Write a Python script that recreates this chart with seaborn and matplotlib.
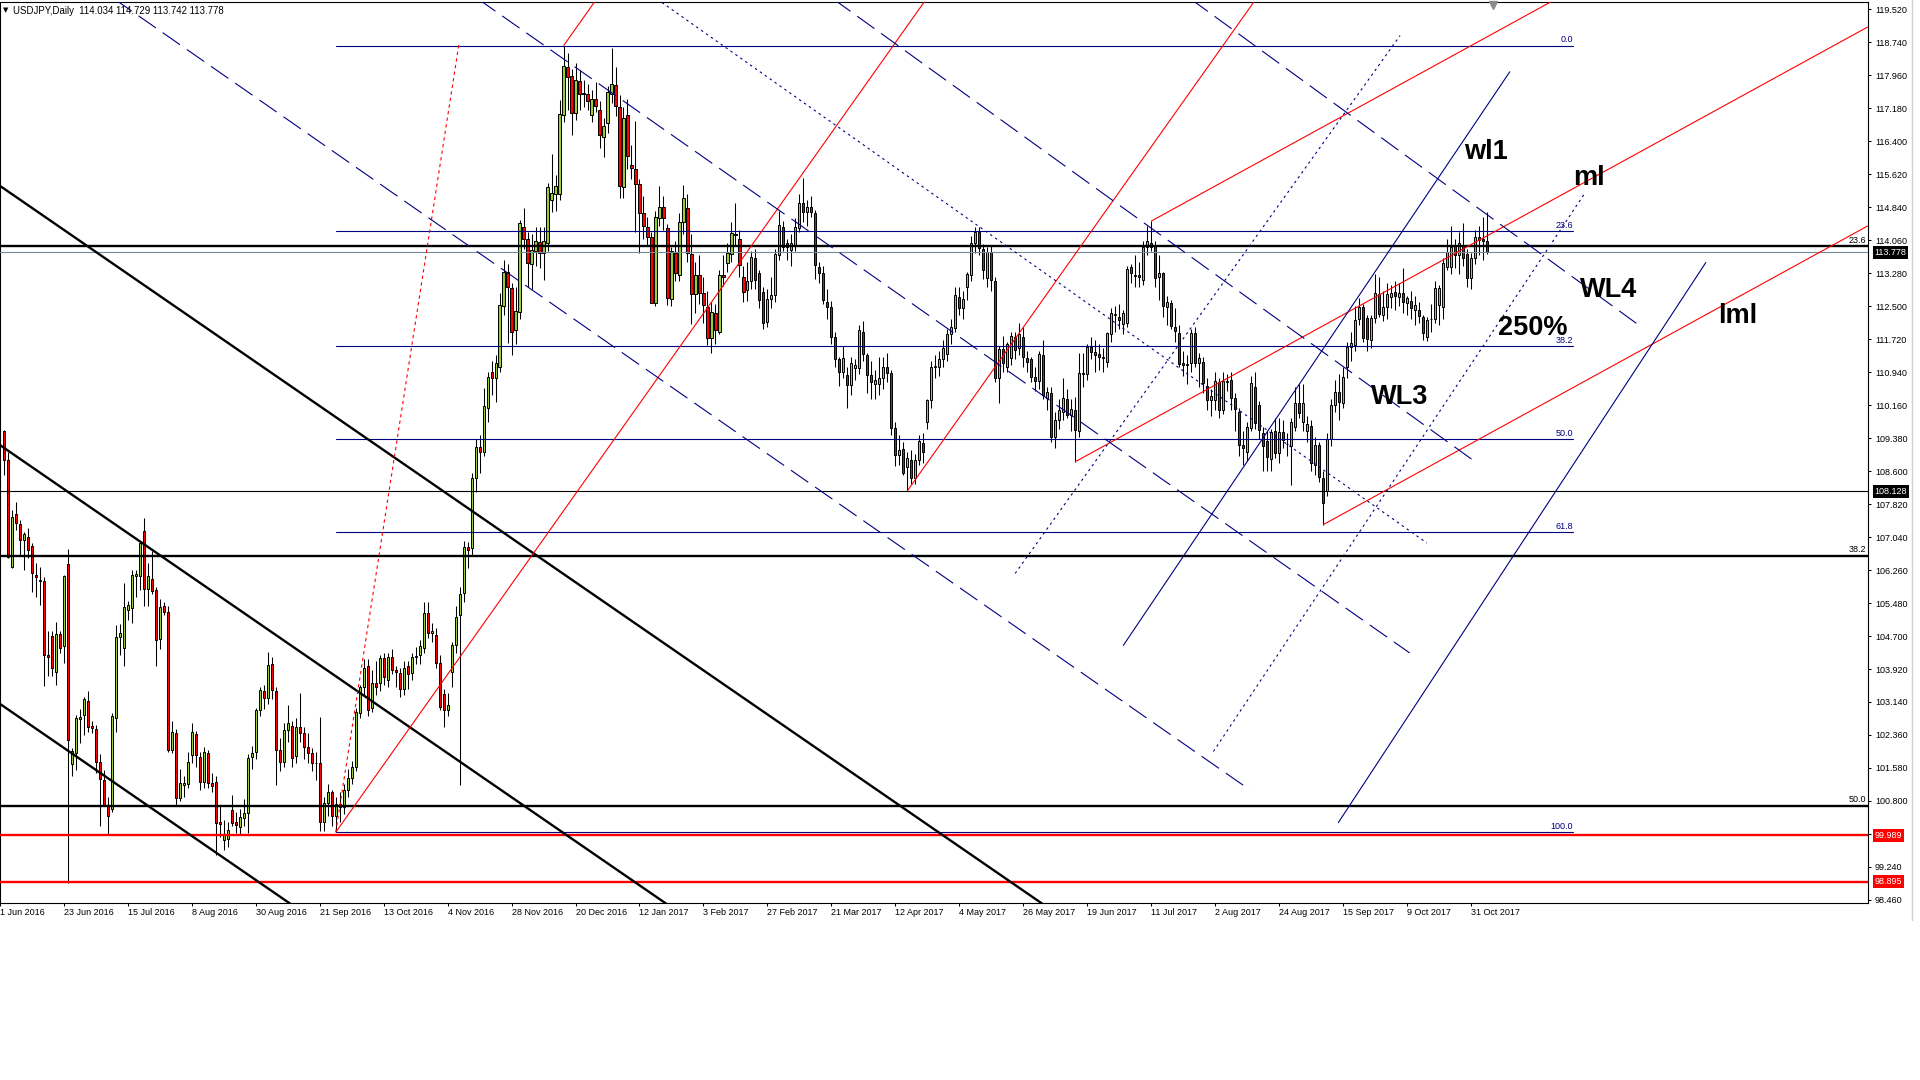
import numpy as np
import matplotlib
matplotlib.use("Agg")
import matplotlib.pyplot as plt
from matplotlib.lines import Line2D
from matplotlib.ticker import FixedFormatter
import seaborn as sns

# USDJPY daily candles, bar 1 = 2 Jun 2016 ... bar 372 = 6 Nov 2017 (bar 0 = 1 Jun 2016 is off screen)
first_bar = 1
opens = [
    109.55, 108.86, 106.34, 107.58, 107.35, 106.96, 107.05, 106.83, 106.14,
    106.03, 106.00, 104.25, 104.70, 103.86, 104.75, 104.47, 106.40, 101.67, 101.94,
    102.74, 102.83, 103.17, 102.58, 102.50, 101.73, 101.30, 100.71, 100.61, 102.76,
    104.68, 104.41, 105.32, 105.36, 106.12, 106.11, 107.19, 105.81, 106.06, 105.79,
    104.63, 105.41, 105.28, 102.01, 102.40, 100.86, 101.18, 101.20, 101.89, 102.38,
    101.83, 101.24, 101.93, 101.22, 101.26, 100.30, 99.88, 99.90, 100.59, 100.30,
    100.19, 100.39, 100.51, 101.85, 101.95, 102.95, 103.39, 103.23, 104.03, 103.39,
    102.00, 101.73, 102.48, 102.57, 101.86, 102.54, 102.40, 102.08, 101.93, 101.69,
    101.70, 100.30, 100.75, 101.00, 100.45, 100.73, 100.65, 101.06, 101.34, 101.60,
    102.88, 103.50, 103.98, 103.00, 103.60, 103.58, 104.17, 103.66, 104.20, 103.90,
    103.82, 103.44, 103.98, 103.82, 104.20, 104.24, 104.41, 105.24, 104.77, 104.73,
    104.06, 103.33, 102.95, 103.86, 104.49, 105.20, 105.72, 106.81, 106.78, 108.43,
    109.18, 109.06, 110.09, 110.95, 110.80, 111.07, 112.50, 113.30, 112.92, 111.93,
    112.37, 114.38, 114.10, 113.50, 113.80, 114.02, 113.75, 113.99, 115.01, 115.15,
    115.15, 117.02, 118.15, 117.94, 117.06, 117.83, 117.55, 117.51, 117.02, 117.41,
    117.14, 116.50, 116.84, 117.52, 117.73, 117.20, 115.31, 117.02, 115.85, 115.74,
    115.39, 114.70, 114.38, 114.14, 112.58, 114.58, 114.84, 114.34, 112.66, 113.76,
    113.24, 114.50, 114.81, 113.73, 112.78, 113.24, 112.80, 112.49, 111.74, 112.35,
    111.90, 113.24, 113.51, 113.73, 114.21, 114.10, 113.20, 112.88, 113.10, 113.63,
    113.28, 112.84, 112.13, 112.68, 112.76, 113.70, 114.38, 113.99, 113.83, 113.95,
    114.34, 114.93, 114.73, 114.84, 114.71, 113.43, 113.29, 112.61, 112.49, 111.76,
    111.24, 110.95, 110.87, 110.64, 111.03, 111.03, 111.90, 111.35, 110.87, 110.67,
    110.67, 110.79, 111.07, 110.91, 109.61, 108.98, 109.12, 108.70, 108.86, 108.43,
    108.86, 109.27, 109.75, 110.28, 111.05, 111.07, 111.24, 111.37, 111.84, 111.98,
    112.71, 112.45, 112.95, 113.24, 114.00, 114.26, 113.85, 113.16, 113.77, 113.10,
    110.79, 111.48, 111.07, 111.27, 111.76, 111.50, 111.76, 111.27, 111.24, 110.83,
    110.74, 111.35, 110.32, 110.45, 109.40, 109.81, 110.00, 110.30, 109.93, 110.05,
    109.55, 110.90, 110.90, 111.54, 111.42, 111.38, 111.30, 111.17, 111.84, 112.28,
    112.25, 112.08, 112.10, 113.42, 113.24, 113.24, 113.12, 113.89, 114.00, 113.95,
    113.20, 113.28, 112.49, 112.58, 112.00, 111.86, 111.15, 111.10, 111.15, 111.87,
    111.15, 111.19, 110.61, 110.27, 110.28, 110.70, 110.05, 110.70, 110.75, 110.32,
    110.00, 109.22, 109.06, 109.61, 110.60, 110.16, 109.51, 109.32, 108.88, 109.56,
    109.02, 109.53, 109.24, 109.19, 109.65, 110.22, 109.75, 109.55, 109.67, 108.74,
    109.22, 108.43, 108.14, 109.37, 110.16, 110.48, 110.20, 111.07, 111.53, 111.58,
    112.19, 112.49, 112.21, 111.70, 112.21, 112.79, 112.29, 112.49, 112.71, 112.84,
    112.71, 112.80, 112.57, 112.62, 112.41, 112.41, 112.25, 111.78, 112.19, 112.19,
    112.53, 112.49, 113.42, 113.42, 113.95, 113.71, 113.95, 113.73, 113.16, 113.63,
    114.13, 114.10, 114.03,
]
highs = [
    109.58, 109.06, 107.67, 107.88, 107.45, 107.17, 107.25, 106.90, 106.42,
    106.34, 106.10, 104.83, 104.83, 105.04, 104.83, 106.14, 106.75, 102.05, 102.83,
    102.98, 103.27, 103.39, 102.70, 102.60, 101.90, 101.53, 100.90, 102.87, 104.96,
    104.99, 105.95, 105.52, 106.26, 106.27, 106.95, 107.49, 106.42, 106.70, 105.85,
    105.58, 105.51, 105.40, 102.68, 102.50, 101.55, 101.40, 101.95, 102.65, 102.45,
    101.95, 102.08, 102.00, 101.45, 101.40, 100.70, 100.35, 100.30, 100.95, 100.55,
    100.60, 100.85, 101.92, 102.10, 103.00, 103.50, 103.55, 104.33, 104.20, 103.50,
    102.30, 102.65, 103.07, 102.70, 102.75, 103.35, 102.55, 102.40, 102.05, 101.95,
    102.79, 100.90, 101.20, 101.05, 100.90, 101.00, 101.20, 101.55, 101.75, 103.00,
    103.55, 104.15, 104.15, 103.90, 104.10, 104.25, 104.30, 104.30, 104.40, 104.00,
    103.95, 104.10, 104.10, 104.30, 104.45, 104.60, 105.51, 105.51, 105.00, 104.90,
    104.25, 103.45, 103.35, 104.55, 105.40, 105.85, 106.95, 106.92, 108.55, 109.35,
    109.45, 110.56, 110.95, 111.20, 111.35, 112.80, 113.59, 113.50, 113.05, 112.96,
    114.54, 114.81, 114.25, 114.20, 114.38, 114.38, 114.38, 115.41, 116.11, 115.60,
    117.37, 118.66, 118.48, 118.10, 118.24, 118.09, 117.86, 117.75, 117.61, 117.81,
    117.35, 116.95, 117.70, 118.60, 118.16, 117.50, 117.20, 117.40, 116.30, 116.88,
    115.50, 115.10, 114.60, 114.25, 114.75, 115.35, 115.10, 114.45, 113.90, 114.05,
    114.70, 115.37, 115.15, 114.20, 113.55, 113.70, 113.20, 112.85, 112.60, 112.55,
    113.35, 113.72, 114.00, 114.50, 114.95, 114.30, 113.45, 113.55, 113.80, 113.85,
    113.35, 112.95, 112.90, 113.20, 113.85, 114.75, 114.52, 114.10, 114.20, 114.58,
    115.15, 115.52, 115.00, 115.10, 114.78, 113.55, 113.45, 112.90, 112.62, 111.90,
    111.30, 111.55, 111.05, 111.30, 111.25, 112.05, 112.15, 111.40, 111.20, 111.00,
    111.30, 111.30, 111.40, 111.00, 109.75, 109.45, 109.30, 109.05, 109.10, 109.00,
    109.45, 109.50, 110.30, 111.20, 111.35, 111.45, 111.70, 111.95, 112.20, 112.95,
    112.95, 112.85, 113.30, 114.15, 114.37, 114.37, 113.98, 113.90, 113.95, 113.20,
    111.55, 111.80, 111.65, 111.90, 111.90, 112.10, 112.00, 111.45, 111.30, 111.05,
    111.45, 111.70, 110.60, 110.60, 110.00, 110.30, 110.80, 110.55, 110.30, 110.35,
    111.40, 111.40, 111.60, 111.78, 111.70, 111.60, 111.50, 111.90, 112.45, 112.50,
    112.55, 112.40, 113.45, 113.50, 113.70, 113.55, 114.05, 114.40, 114.51, 114.05,
    113.70, 113.30, 112.75, 112.65, 112.45, 112.05, 111.45, 111.35, 111.95, 112.00,
    111.40, 111.30, 110.80, 110.55, 110.95, 110.80, 110.95, 110.90, 110.95, 110.45,
    110.10, 109.55, 109.75, 110.85, 110.95, 110.25, 109.65, 109.55, 109.60, 109.85,
    109.85, 109.80, 109.50, 109.85, 110.60, 110.65, 110.65, 109.90, 109.80, 109.40,
    109.30, 108.60, 109.50, 110.30, 110.75, 110.90, 111.05, 111.65, 111.90, 112.50,
    112.70, 112.55, 112.30, 112.30, 113.25, 113.20, 112.85, 113.05, 113.00, 113.10,
    113.05, 113.40, 112.75, 112.85, 112.75, 112.60, 112.30, 112.25, 112.55, 113.10,
    113.00, 113.65, 114.10, 114.40, 114.10, 114.25, 114.46, 113.85, 113.75, 114.30,
    114.40, 114.60, 114.73,
]
lows = [
    108.51, 106.54, 106.30, 107.20, 106.62, 106.26, 106.54, 105.73, 105.62,
    105.44, 103.53, 103.76, 103.76, 103.54, 104.29, 104.06, 98.87, 101.38, 101.53,
    102.16, 102.36, 102.44, 102.40, 101.45, 100.20, 100.67, 100.00, 100.55, 102.44,
    104.25, 103.98, 105.08, 105.00, 105.63, 105.80, 105.40, 105.40, 105.70, 103.98,
    104.40, 105.20, 101.95, 101.93, 100.70, 100.80, 100.90, 101.10, 101.70, 101.60,
    101.05, 101.10, 101.10, 101.00, 99.52, 99.95, 99.64, 99.70, 100.20, 100.05,
    100.00, 100.20, 100.04, 101.55, 101.80, 102.80, 102.98, 103.10, 103.20, 101.18,
    101.50, 101.60, 102.20, 101.60, 101.70, 102.20, 101.80, 101.70, 101.50, 101.30,
    100.10, 100.10, 100.45, 100.20, 100.06, 100.30, 100.50, 100.90, 101.20, 101.50,
    102.75, 103.30, 102.80, 102.90, 103.30, 103.40, 103.55, 103.50, 103.80, 103.50,
    103.25, 103.30, 103.45, 103.65, 104.05, 104.05, 104.30, 104.65, 104.55, 103.95,
    102.95, 102.56, 102.80, 103.50, 104.30, 101.18, 105.50, 106.30, 106.60, 108.11,
    108.55, 108.95, 109.75, 110.40, 110.24, 110.95, 112.30, 111.62, 111.35, 111.60,
    112.20, 113.85, 112.96, 112.90, 113.45, 113.40, 113.12, 113.80, 114.73, 114.75,
    115.00, 116.85, 117.15, 116.55, 116.90, 117.15, 117.22, 117.14, 116.85, 117.10,
    116.23, 116.03, 116.60, 117.30, 117.00, 115.05, 115.06, 115.75, 115.50, 114.25,
    113.75, 114.10, 113.95, 112.57, 112.50, 114.40, 114.30, 112.52, 112.50, 113.10,
    113.10, 114.20, 113.55, 112.08, 112.35, 112.55, 112.10, 111.58, 111.40, 111.60,
    111.85, 112.98, 113.30, 113.55, 113.95, 113.20, 112.60, 112.62, 112.90, 112.90,
    112.45, 111.95, 112.00, 112.45, 112.60, 113.60, 113.80, 113.60, 113.45, 113.80,
    114.25, 114.50, 114.40, 114.60, 113.15, 113.05, 112.55, 112.20, 111.60, 111.05,
    110.62, 110.80, 110.10, 110.40, 110.75, 110.90, 111.20, 110.45, 110.30, 110.30,
    110.40, 110.55, 110.70, 109.45, 108.72, 108.75, 108.50, 108.13, 108.30, 108.30,
    108.75, 108.80, 109.60, 110.10, 110.80, 110.85, 111.05, 111.20, 111.60, 111.90,
    112.30, 112.20, 112.65, 113.10, 113.75, 113.70, 113.15, 112.95, 112.85, 110.70,
    110.20, 110.95, 110.95, 111.10, 111.25, 111.35, 111.05, 110.95, 110.70, 110.50,
    110.55, 110.30, 110.05, 109.30, 109.15, 109.60, 109.80, 109.85, 109.55, 108.82,
    109.40, 110.60, 110.75, 111.25, 110.95, 111.00, 110.95, 111.05, 111.65, 111.90,
    111.95, 111.85, 112.00, 113.05, 112.95, 112.95, 113.00, 113.70, 113.80, 112.95,
    112.65, 112.25, 112.05, 111.95, 111.65, 111.05, 110.85, 110.65, 110.95, 111.05,
    110.60, 110.45, 110.05, 109.90, 110.05, 109.85, 109.95, 110.50, 110.05, 109.55,
    108.95, 108.75, 108.85, 109.55, 109.60, 109.35, 108.60, 108.60, 108.60, 108.90,
    108.80, 109.15, 108.95, 108.27, 109.55, 109.85, 109.55, 109.30, 108.60, 108.50,
    108.35, 107.33, 108.00, 109.20, 110.00, 109.80, 110.10, 110.80, 111.20, 111.45,
    112.05, 111.65, 111.45, 111.50, 112.10, 112.25, 112.15, 112.20, 112.45, 112.40,
    112.50, 112.35, 112.30, 112.20, 112.05, 112.10, 111.70, 111.67, 111.90, 112.10,
    112.05, 112.20, 113.35, 113.25, 113.40, 113.25, 113.45, 112.95, 112.90, 113.50,
    113.70, 113.60, 113.74,
]
closes = [
    108.86, 106.58, 107.52, 107.37, 106.96, 107.11, 106.73, 106.18, 106.09,
    105.99, 104.24, 104.20, 103.94, 104.75, 104.41, 106.12, 102.24, 101.97, 102.75,
    102.78, 103.21, 102.54, 102.52, 101.73, 101.31, 100.71, 100.45, 102.82, 104.67,
    104.76, 105.38, 105.44, 106.15, 106.17, 106.89, 105.81, 106.12, 105.77, 104.61,
    105.38, 105.28, 102.01, 102.42, 100.86, 101.22, 101.22, 101.73, 102.42, 101.89,
    101.24, 101.95, 101.22, 101.16, 100.27, 100.25, 100.00, 100.12, 100.27, 100.23,
    100.43, 100.51, 101.81, 101.93, 102.95, 103.43, 103.23, 104.02, 103.42, 102.00,
    101.73, 102.48, 102.65, 101.81, 102.56, 102.40, 102.08, 101.93, 101.69, 101.70,
    100.30, 100.75, 101.00, 100.45, 100.73, 100.65, 101.06, 101.35, 101.61, 102.90,
    103.50, 103.94, 102.95, 103.58, 103.50, 104.17, 103.74, 104.20, 103.90, 103.86,
    103.44, 103.94, 103.81, 104.20, 104.23, 104.47, 105.25, 104.77, 104.81, 104.06,
    103.03, 102.95, 103.07, 104.49, 105.16, 105.70, 106.81, 106.73, 108.43, 109.18,
    109.06, 110.14, 110.83, 110.80, 111.15, 112.53, 113.32, 112.96, 111.90, 112.38,
    114.46, 114.10, 113.51, 113.84, 114.03, 113.75, 114.03, 115.33, 115.17, 115.35,
    117.04, 118.18, 117.93, 117.06, 117.85, 117.52, 117.52, 117.36, 117.41, 117.23,
    116.55, 116.75, 117.57, 117.75, 117.23, 115.34, 116.94, 116.05, 115.76, 115.40,
    114.71, 114.40, 114.14, 112.58, 114.62, 114.84, 114.58, 112.70, 113.80, 113.28,
    114.50, 115.05, 113.76, 112.78, 113.24, 112.80, 112.53, 111.74, 112.37, 111.94,
    113.24, 113.20, 113.76, 114.24, 114.18, 113.47, 112.84, 113.10, 113.67, 113.12,
    112.65, 112.10, 112.68, 112.76, 113.73, 114.42, 113.91, 113.89, 113.99, 114.38,
    114.93, 114.73, 114.84, 114.73, 113.47, 113.29, 112.65, 112.49, 111.78, 111.24,
    110.95, 111.27, 110.64, 111.15, 111.11, 111.94, 111.38, 110.87, 110.71, 110.75,
    110.79, 111.07, 110.91, 109.61, 108.98, 109.10, 108.55, 108.90, 108.43, 108.86,
    109.31, 109.06, 110.28, 111.07, 111.08, 111.24, 111.50, 111.84, 112.00, 112.76,
    112.45, 112.67, 113.26, 113.99, 114.26, 113.87, 113.36, 113.77, 113.12, 110.79,
    111.48, 111.15, 111.61, 111.80, 111.46, 111.84, 111.31, 111.17, 110.83, 110.74,
    111.37, 110.40, 110.48, 109.40, 109.81, 110.05, 110.32, 109.93, 110.06, 109.57,
    110.93, 110.92, 111.54, 111.42, 111.35, 111.31, 111.28, 111.86, 112.33, 112.32,
    112.17, 112.35, 113.37, 113.28, 113.22, 113.20, 113.91, 114.03, 113.91, 113.16,
    113.28, 112.50, 112.60, 112.03, 111.92, 111.13, 111.10, 111.13, 111.87, 111.15,
    111.27, 110.68, 110.27, 110.38, 110.72, 110.05, 110.72, 110.74, 110.32, 110.08,
    109.22, 109.14, 109.65, 110.68, 109.73, 109.57, 109.19, 108.94, 109.53, 109.02,
    109.53, 109.34, 109.24, 109.75, 110.22, 109.97, 110.22, 109.71, 108.80, 109.22,
    108.45, 107.85, 109.37, 110.16, 110.48, 110.24, 110.82, 111.54, 111.62, 112.17,
    112.49, 111.74, 111.72, 112.21, 112.80, 112.32, 112.49, 112.79, 112.82, 112.75,
    112.80, 112.61, 112.69, 112.45, 112.53, 112.27, 111.86, 112.17, 112.19, 112.92,
    112.92, 113.51, 113.77, 113.91, 113.71, 113.99, 113.63, 113.16, 113.63, 114.13,
    114.07, 114.03, 113.78,
]

# date labels every 16 bars, starting at bar 0
date_labels = [
    "1 Jun 2016", "23 Jun 2016", "15 Jul 2016", "8 Aug 2016", "30 Aug 2016",
    "21 Sep 2016", "13 Oct 2016", "4 Nov 2016", "28 Nov 2016", "20 Dec 2016",
    "12 Jan 2017", "3 Feb 2017", "27 Feb 2017", "21 Mar 2017", "12 Apr 2017",
    "4 May 2017", "26 May 2017", "19 Jun 2017", "11 Jul 2017", "2 Aug 2017",
    "24 Aug 2017", "15 Sep 2017", "9 Oct 2017", "31 Oct 2017",
]
price_ticks = [
    98.46, 99.24, 100.02, 100.80, 101.58, 102.36, 103.14, 103.92, 104.70, 105.48,
    106.26, 107.04, 107.82, 108.60, 109.38, 110.16, 110.94, 111.72, 112.50, 113.28,
    114.06, 114.84, 115.62, 116.40, 117.18, 117.96, 118.74, 119.52,
]
# 100.020 sits under the 99.989 price box in the reference
hidden_tick = 100.02

# horizontal levels
bid_price = 113.778
black_level = 108.128
red_levels = [99.989, 98.895]

# black fibo (anchors outside the view)
black_fib_hi, black_fib_lo = 125.74, 75.64
black_fib_levels = [23.6, 38.2, 50.0]

# blue fibo from Sep 2016 low to Dec 2016 high
blue_fib_start, blue_fib_end = 84, 393.5
blue_fib_lo, blue_fib_hi = 100.06, 118.66
blue_fib_levels = [0.0, 23.6, 38.2, 50.0, 61.8, 100.0]

# pitchforks (bar, price)
fork1 = [(84, 100.06), (141, 118.66), (227, 108.13)]
fork2 = [(269, 108.82), (288, 114.51), (331, 107.33)]

# trend lines (bar, price)
channel_upper = [(-5, 115.67), (270, 97.77)]
channel_mid = [(-5, 109.54), (175, 97.83)]
channel_low = [(-5, 103.42), (80, 97.89)]
red_dotted = [(84, 100.06), (114.8, 118.68)]
dash_1 = [(28.07, 119.80), (312.75, 101.06)]
dash_2 = [(119.08, 119.80), (352.7, 104.30)]
dot_desc = [(163.84, 119.80), (357.0, 106.90)]
dash_3 = [(207.98, 119.80), (369.7, 108.78)]
wl4_line = [(297.4, 119.80), (410.5, 112.02)]
wl1_line = [(281.0, 104.47), (377.8, 118.05)]
blue_low_line = [(334.8, 100.28), (426.85, 113.54)]
dot_up_1 = [(254.0, 106.18), (350.3, 118.90)]
dot_up_2 = [(303.6, 101.97), (396.3, 115.14)]

# big labels: text, bar, price (baseline)
tags = [("wl1", 366.4, 115.98), ("ml", 393.6, 115.37), ("WL4", 395.4, 112.72),
        ("250%", 374.9, 111.82), ("lml", 429.9, 112.10), ("WL3", 343.1, 110.19)]

NAVY = "#000080"
RED = "#ff0000"
BULL = "#9acd32"

sns.set_theme(style="white")
plt.rcParams['font.family'] = ['Liberation Sans', 'DejaVu Sans']

W, H = 1920, 1080
fig = plt.figure(figsize=(19.2, 10.8), dpi=100)
fig.patch.set_facecolor("white")
ax = fig.add_axes([0, 1 - 902.7 / H, 1868 / W, 900.7 / H])
ax.set_facecolor("white")
ax.set_xlim(0.375, 467.375)
ax.set_ylim(98.394, 119.693)

n = min(len(opens), len(highs), len(lows), len(closes))
x = np.arange(first_bar, first_bar + n)
o = np.array(opens[:n]); hi = np.array(highs[:n])
lo = np.array(lows[:n]); c = np.array(closes[:n])

# candles
ax.vlines(x, lo, hi, color="black", linewidth=0.75, zorder=2)
body_bot = np.minimum(o, c)
body_h = np.maximum(np.abs(c - o), 0.004)
cols = np.where(c >= o, BULL, RED)
ax.bar(x, body_h, bottom=body_bot, width=0.55, color=cols,
       edgecolor="black", linewidth=0.7, zorder=3)

lw = 0.8
DASH = (0, (19, 7.5))
DOT = (0, (2.2, 3.2))


def seg(pts, color, ls="-", width=lw):
    ax.plot([pts[0][0], pts[1][0]], [pts[0][1], pts[1][1]], color=color,
            linestyle=ls, linewidth=width, zorder=4, solid_capstyle="butt")


# horizontal lines
ax.axhline(black_level, color="black", linewidth=0.8, zorder=4)
ax.axhline(bid_price, color="#778899", linewidth=0.8, zorder=4)
for rp in red_levels:
    ax.axhline(rp, color=RED, linewidth=1.7, zorder=4)

# black fibo
for lv in black_fib_levels:
    p = black_fib_hi - lv / 100 * (black_fib_hi - black_fib_lo)
    ax.axhline(p, color="black", linewidth=1.7, zorder=4)
    ax.text(466.9, p + 0.03, f"{lv:.1f}", ha="right", va="bottom",
            fontsize=6.5, color="black", zorder=6)

# blue fibo
for lv in blue_fib_levels:
    p = blue_fib_hi - lv / 100 * (blue_fib_hi - blue_fib_lo)
    ax.plot([blue_fib_start, blue_fib_end], [p, p], color=NAVY, linewidth=lw, zorder=4)
    ax.text(blue_fib_end, p + 0.03, f"{lv:.1f}", ha="right", va="bottom",
            fontsize=6.5, color=NAVY, zorder=6)

# black descending channel
for ln in (channel_upper, channel_mid, channel_low):
    seg(ln, "black", width=1.7)

# red pitchforks
for fork in (fork1, fork2):
    p0, p1, p2 = fork
    mx, my = (p1[0] + p2[0]) / 2, (p1[1] + p2[1]) / 2
    k = (my - p0[1]) / (mx - p0[0])
    for bx, by in fork:
        seg([(bx, by), (600, by + k * (600 - bx))], RED)

seg(red_dotted, RED, ls=(0, (3, 3)))

# blue descending lines
for ln in (dash_1, dash_2, dash_3, wl4_line):
    seg(ln, NAVY, ls=DASH)
seg(dot_desc, NAVY, ls=DOT)

# blue ascending lines
seg(wl1_line, NAVY)
seg(blue_low_line, NAVY)
seg(dot_up_1, NAVY, ls=DOT)
seg(dot_up_2, NAVY, ls=DOT)

for t, bx, by in tags:
    ax.text(bx, by, t, fontsize=19.5, fontweight="bold", color="black",
            ha="left", va="baseline", zorder=7)

# axes frame and ticks
for sp in ax.spines.values():
    sp.set_color("black")
    sp.set_linewidth(0.8)
ax.grid(False)
ax.yaxis.tick_right()
ax.set_yticks(price_ticks)
ax.yaxis.set_major_formatter(FixedFormatter(
    ["" if abs(t - hidden_tick) < 1e-6 else f"{t:.3f}" for t in price_ticks]))
ax.tick_params(axis="y", direction="out", length=2.5, width=0.75, pad=2.5,
               labelsize=6.5, colors="black", right=True, left=False)
tick_pos = [16 * i for i in range(len(date_labels))]
ax.set_xticks(tick_pos)
ax.tick_params(axis="x", direction="out", length=2.5, width=0.75,
               labelbottom=False, bottom=True, colors="black")
for pos, lab in zip(tick_pos, date_labels):
    ax.text(pos, -0.0105, lab, transform=ax.get_xaxis_transform(), ha="left",
            va="center", fontsize=6.5, color="black", clip_on=False)

# price boxes on the axis
ytr = ax.get_yaxis_transform()
boxes = [(bid_price, "black"), (black_level, "black"),
         (red_levels[0], RED), (red_levels[1], RED)]
for p, fc in boxes:
    ax.text(1.0035, p, f"{p:.3f}", transform=ytr, ha="left", va="center",
            fontsize=6.5, color="white", zorder=8, clip_on=False,
            bbox=dict(boxstyle="square,pad=0.22", fc=fc, ec="none"))

# header text
fig.text(3 / W, 1 - 10.5 / H, "\u25bc", fontsize=5, color="black",
         va="center", ha="left", family="DejaVu Sans")
fig.text(13 / W, 1 - 10.5 / H, "USDJPY,Daily  114.034 114.729 113.742 113.778",
         fontsize=6.9, color="black", va="center", ha="left")

# chart shift marker and right border
fig.add_artist(Line2D([1492.7 / W], [1 - 4.5 / H], marker="v", markersize=6,
                      color="#8c8c8c", linestyle="none", transform=fig.transFigure))
fig.add_artist(Line2D([1912 / W, 1912 / W], [1, 1 - 920 / H], color="#d0d0d0",
                      linewidth=1, transform=fig.transFigure))

fig.savefig("out.png", dpi=100, facecolor="white")
